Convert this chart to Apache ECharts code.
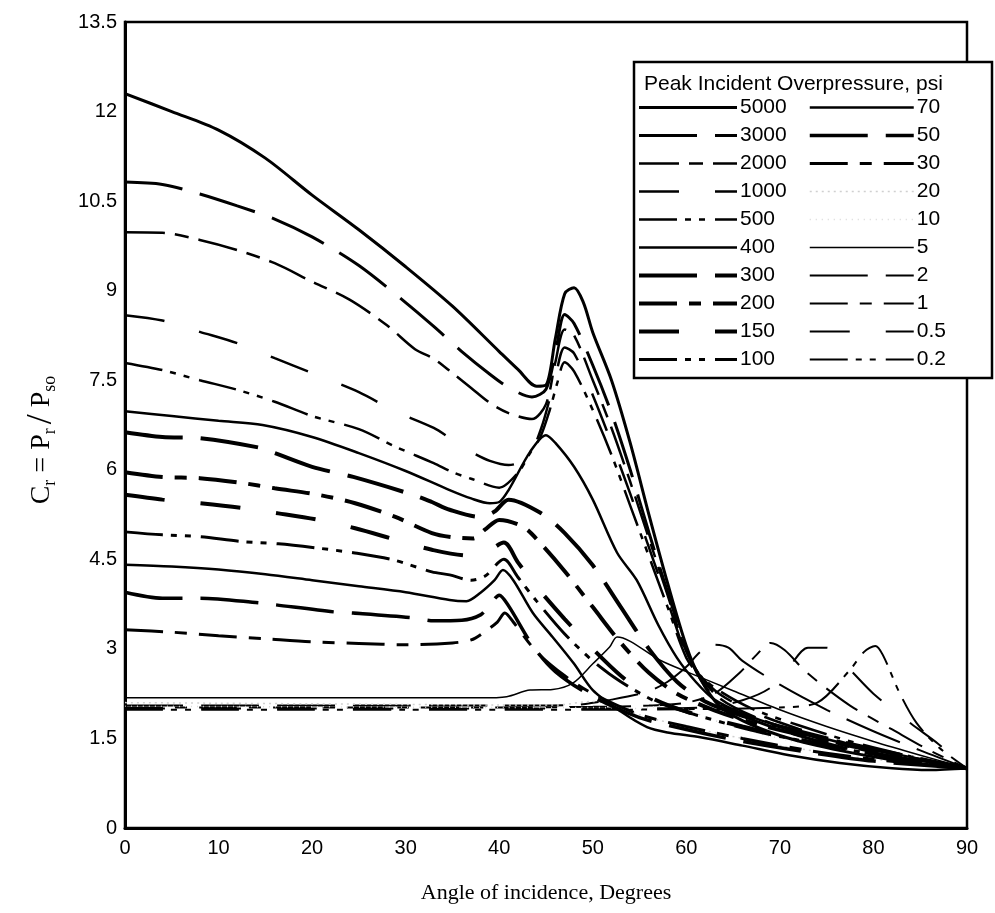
<!DOCTYPE html>
<html>
<head>
<meta charset="utf-8">
<script src="https://cdn.jsdelivr.net/npm/echarts@6/dist/echarts.min.js"></script>
<style>
  html, body { margin: 0; padding: 0; background: #fff; }
  #chart { width: 995px; height: 913px; }
</style>
</head>
<body>
<div id="chart"></div>
<script>
// Reflected pressure coefficient Cr vs. angle of incidence, one curve per peak incident overpressure (psi).
// Each curve: [angle (deg), Cr]
const p5000 = [[0,12.3],[5,12.0],[10,11.69],[15,11.22],[20,10.6],[25,10.02],[30,9.4],[35,8.74],[40,7.98],[42,7.68],[44,7.4],[45,7.42],[46,8.2],[47,8.95],[48,9.05],[49,8.8],[50,8.3],[52,7.5],[54,6.45],[56,5.25],[58,4.1],[60,3.05],[61.5,2.5],[63.5,2.05],[66,1.8],[70,1.55],[74,1.38],[78,1.25],[82,1.14],[86,1.06],[90,1.0]];
const p3000 = [[0,10.82],[4,10.78],[8,10.62],[12,10.42],[16,10.2],[20,9.9],[25,9.42],[30,8.8],[33,8.4],[36,7.98],[39,7.6],[41,7.38],[43.5,7.22],[45,7.35],[46,7.95],[47,8.6],[48,8.45],[50,7.75],[52,6.95],[54,6.0],[56,4.95],[58,3.95],[60,3.0],[61.5,2.5],[63.5,2.1],[67,1.82],[72,1.55],[78,1.3],[84,1.12],[90,1.0]];
const p2000 = [[0,9.98],[4,9.97],[8,9.85],[12,9.68],[16,9.46],[20,9.15],[24,8.85],[28,8.42],[31,8.02],[33,7.86],[35,7.62],[37,7.37],[39,7.12],[41,6.95],[43.5,6.85],[45,7.1],[46,7.8],[47,8.35],[48,8.25],[50,7.5],[52,6.7],[54,5.8],[56,4.85],[58,3.9],[60,2.95],[61.5,2.55],[63.5,2.18],[67,1.88],[72,1.6],[78,1.34],[84,1.14],[90,1.0]];
const p1000 = [[0,8.59],[4,8.5],[8,8.31],[12,8.12],[16,7.87],[20,7.62],[25,7.3],[29,6.97],[33,6.7],[35,6.5],[37,6.3],[39,6.15],[41,6.08],[43,6.2],[44.5,6.7],[46,7.55],[47,8.05],[48,7.95],[50,7.25],[52,6.45],[54,5.6],[56,4.7],[58,3.8],[60,2.9],[61.5,2.55],[63.5,2.25],[67,1.95],[72,1.66],[78,1.38],[84,1.16],[90,1.0]];
const p500 = [[0,7.79],[4,7.67],[8,7.5],[12,7.34],[16,7.14],[20,6.9],[25,6.68],[29,6.38],[33,6.11],[35,5.96],[37,5.85],[40,5.7],[42,5.95],[43.3,6.28],[44.4,6.55],[45.4,7.0],[46.2,7.45],[47,7.8],[48,7.65],[50,7.0],[52,6.25],[54,5.4],[56,4.55],[58,3.7],[60,2.85],[61.5,2.55],[63.5,2.3],[67,2.0],[72,1.72],[78,1.43],[84,1.2],[90,1.0]];
const p400 = [[0,6.98],[5,6.9],[10,6.82],[14.7,6.75],[20,6.55],[25,6.28],[30,5.98],[34.7,5.66],[37,5.52],[39,5.44],[40,5.46],[41,5.66],[43.3,6.3],[45,6.58],[46,6.45],[48,6.05],[50,5.5],[52.6,4.61],[54.7,4.15],[57,3.4],[59,2.85],[61,2.45],[63,2.15],[66,1.92],[70,1.7],[76,1.45],[82,1.25],[90,1.0]];
const p300 = [[0,6.63],[4,6.55],[8,6.53],[14.4,6.37],[16,6.28],[20,6.05],[24.4,5.88],[30.8,5.58],[32.8,5.46],[34.7,5.33],[38,5.21],[39.5,5.3],[41,5.5],[44.4,5.28],[47,4.94],[50,4.4],[53,3.7],[56,3.0],[59,2.45],[62,2.12],[66,1.88],[72,1.62],[80,1.32],[90,1.0]];
const p200 = [[0,5.96],[4,5.88],[8,5.86],[12.5,5.78],[16,5.69],[20.7,5.58],[24.6,5.44],[28.9,5.21],[32.8,4.94],[35,4.87],[37.2,4.85],[38.5,5.0],[40,5.16],[42.6,5.04],[44.4,4.77],[47,4.3],[50,3.7],[53,3.1],[56,2.6],[59,2.25],[63,1.97],[68,1.72],[75,1.46],[82,1.23],[90,1.0]];
const p150 = [[0,5.58],[4,5.5],[8,5.44],[12.5,5.36],[16.4,5.27],[20.7,5.16],[24.6,5.02],[28.9,4.83],[32.8,4.66],[37,4.56],[38.5,4.6],[40.5,4.78],[42,4.45],[44,4.04],[47,3.5],[50,3.0],[53,2.55],[56,2.2],[60,1.95],[66,1.7],[73,1.45],[81,1.22],[90,1.0]];
const p100 = [[0,4.96],[4,4.91],[8,4.88],[12.3,4.8],[16.4,4.76],[20.5,4.69],[24.4,4.61],[28.7,4.49],[32.8,4.29],[34.7,4.24],[37,4.15],[38.5,4.22],[40.5,4.5],[42,4.2],[44,3.8],[47,3.25],[50,2.8],[53,2.45],[57,2.1],[62,1.85],[68,1.6],[75,1.38],[82,1.18],[90,1.0]];
const p70 = [[0,4.41],[5,4.38],[10,4.33],[15,4.25],[20,4.15],[25,4.05],[30,3.95],[34.7,3.82],[36.5,3.8],[38,3.94],[39.5,4.15],[40.4,4.32],[41.5,4.15],[43.6,3.6],[45.7,3.2],[48,2.75],[50,2.31],[53,1.95],[55.8,1.69],[58,1.6],[61.5,1.52],[66,1.38],[71,1.22],[76.4,1.09],[82,1.0],[86,0.97],[90,1.0]];
const p50 = [[0,3.95],[4,3.85],[8,3.85],[14.4,3.77],[16,3.74],[22.3,3.62],[24.4,3.6],[30.8,3.52],[33,3.47],[36,3.48],[38,3.57],[39,3.74],[40,3.9],[41,3.72],[43.6,3.05],[46,2.62],[50,2.2],[55,1.85],[60,1.65],[66,1.45],[73,1.27],[80,1.12],[90,1.0]];
const p30 = [[0,3.32],[5,3.28],[10,3.22],[15,3.17],[20,3.12],[25,3.09],[30,3.07],[35,3.1],[37,3.15],[38.3,3.27],[39.8,3.45],[40.6,3.6],[41.5,3.45],[44,2.95],[47,2.55],[50,2.25],[55,1.9],[60,1.7],[66,1.5],[73,1.3],[80,1.15],[90,1.0]];
const p20 = [[0,2.1],[10,2.09],[20,2.08],[30,2.07],[40,2.06],[46,2.06],[50,2.12],[52,2.05],[56,1.85],[60,1.7],[66,1.5],[72,1.33],[80,1.15],[90,1.0]];
const p10 = [[0,2.04],[20,2.03],[40,2.02],[50,2.02],[55,2.0],[58,2.06],[60,1.98],[64,1.75],[70,1.5],[78,1.27],[84,1.12],[90,1.0]];
const p5 = [[0,2.18],[10,2.18],[20,2.18],[30,2.18],[38,2.18],[40.8,2.2],[43.3,2.31],[45.7,2.32],[47.9,2.43],[50,2.75],[51.8,3.03],[52.6,3.2],[57.2,2.81],[60,2.62],[65,2.3],[70,1.98],[75,1.7],[80,1.45],[85,1.22],[90,1.0]];
const p2 = [[0,2.05],[10,2.05],[20,2.05],[30,2.05],[40,2.05],[48,2.06],[52,2.15],[55.8,2.28],[58,2.45],[60,2.7],[61.5,2.95],[63,3.07],[64.5,3.02],[66,2.8],[70,2.4],[75,1.98],[80,1.62],[85,1.3],[90,1.0]];
const p1 = [[0,2.02],[10,2.02],[20,2.02],[30,2.02],[40,2.02],[50,2.03],[56,2.05],[60,2.1],[63,2.25],[65.7,2.6],[67.5,2.9],[69,3.1],[70.5,2.98],[72.9,2.6],[77.5,2.05],[82,1.65],[86,1.3],[90,1.0]];
const p05 = [[0,2.0],[10,2.0],[20,2.0],[30,2.0],[40,2.0],[50,2.0],[62,2.02],[66,2.14],[69,2.35],[71,2.7],[73,3.02],[75,3.02],[77.5,2.65],[80,2.25],[84,1.75],[87,1.4],[90,1.0]];
const p02 = [[0,1.98],[10,1.98],[20,1.98],[30,1.98],[40,1.98],[50,1.98],[60,1.99],[70,2.02],[74,2.1],[77.5,2.65],[79,2.95],[80.2,3.05],[81,2.9],[82.8,2.26],[84.6,1.76],[87,1.35],[90,1.0]];

// Legend columns (psi)
const legendLeft = ['5000','3000','2000','1000','500','400','300','200','150','100'];
const legendRight = ['70','50','30','20','10','5','2','1','0.5','0.2'];

// Axis ticks
const xTicks = [0,10,20,30,40,50,60,70,80,90];
const yTicks = [0,1.5,3,4.5,6,7.5,9,10.5,12,13.5];

const curves = {
  '5000': p5000, '3000': p3000, '2000': p2000, '1000': p1000, '500': p500,
  '400': p400, '300': p300, '200': p200, '150': p150, '100': p100,
  '70': p70, '50': p50, '30': p30, '20': p20, '10': p10,
  '5': p5, '2': p2, '1': p1, '0.5': p05, '0.2': p02
};

// Line appearance per curve
const DASH_LONG = [58, 18];
const DASH_DOT = [38, 12, 12, 12];
const DASH_GAP = [40, 36];
const DASH_DOT2 = [38, 8, 6, 8, 6, 10];
const DASH_DOT_MED = [40, 10, 14, 10];
const looks = {
  '5000': { w: 3, t: 'solid' },
  '3000': { w: 3, t: DASH_LONG },
  '2000': { w: 2.5, t: DASH_DOT_MED },
  '1000': { w: 2.5, t: DASH_GAP },
  '500':  { w: 2.5, t: DASH_DOT2 },
  '400':  { w: 2.5, t: 'solid' },
  '300':  { w: 4, t: DASH_LONG },
  '200':  { w: 4, t: DASH_DOT },
  '150':  { w: 4, t: DASH_GAP },
  '100':  { w: 3, t: DASH_DOT2 },
  '70':   { w: 2.5, t: 'solid' },
  '50':   { w: 3.5, t: DASH_LONG },
  '30':   { w: 3, t: DASH_DOT },
  '20':   { w: 1.5, t: [2, 4], c: '#d0d0d0' },
  '10':   { w: 1.5, t: [1, 5], c: '#d8d8d8' },
  '5':    { w: 1.5, t: 'solid' },
  '2':    { w: 2, t: DASH_LONG },
  '1':    { w: 2, t: DASH_DOT },
  '0.5':  { w: 2, t: DASH_GAP },
  '0.2':  { w: 2, t: DASH_DOT2 }
};

const order = legendRight.slice().reverse().concat(legendLeft.slice().reverse());
const series = order.map(name => ({
  name: name,
  type: 'line',
  data: curves[name],
  symbol: 'none',
  showSymbol: false,
  smooth: 0.3,
  clip: true,
  silent: true,
  z: 2,
  lineStyle: {
    width: looks[name].w,
    type: looks[name].t,
    color: looks[name].c || '#000'
  },
  itemStyle: { color: looks[name].c || '#000' }
}));

const sansFont = '"Liberation Sans", Arial, sans-serif';
const serifFont = '"Liberation Serif", "Times New Roman", serif';

const legendCommon = {
  orient: 'vertical',
  padding: 0,
  itemGap: 7,
  itemHeight: 14,
  selectedMode: false,
  z: 20,
  itemStyle: { color: 'rgba(0,0,0,0)', borderColor: 'rgba(0,0,0,0)', borderWidth: 0 },
  lineStyle: { width: 'inherit', type: 'inherit', color: 'inherit' },
  textStyle: { fontFamily: sansFont, fontSize: 21, color: '#000', lineHeight: 21, padding: [0, 0, 0, -2] }
};

const chart = echarts.init(document.getElementById('chart'), null, { renderer: 'canvas' });
chart.setOption({
  animation: false,
  backgroundColor: '#fff',
  grid: {
    left: 125, right: 28, top: 22, bottom: 85,
    show: true, borderColor: '#000', borderWidth: 2.5, backgroundColor: 'transparent'
  },
  xAxis: {
    type: 'value',
    min: xTicks[0], max: xTicks[xTicks.length - 1], interval: 10,
    name: 'Angle of incidence, Degrees',
    nameLocation: 'middle',
    nameGap: 54,
    nameTextStyle: { fontFamily: serifFont, fontSize: 22, color: '#000' },
    axisLine: { show: true, lineStyle: { color: '#000', width: 3 } },
    axisTick: { show: false },
    splitLine: { show: false },
    axisLabel: { margin: 10, fontFamily: sansFont, fontSize: 20, color: '#000' }
  },
  yAxis: {
    type: 'value',
    min: yTicks[0], max: yTicks[yTicks.length - 1], interval: 1.5,
    axisLine: { show: true, lineStyle: { color: '#000', width: 3 } },
    axisTick: { show: false },
    splitLine: { show: false },
    axisLabel: { margin: 8, fontFamily: sansFont, fontSize: 20, color: '#000' }
  },
  legend: [
    Object.assign({}, legendCommon, { data: legendLeft, left: 637, top: 97, itemWidth: 98 }),
    Object.assign({}, legendCommon, { data: legendRight, left: 808, top: 97, itemWidth: 104 })
  ],
  graphic: [
    {
      type: 'rect', z: 10,
      shape: { x: 634, y: 62, width: 358, height: 316 },
      style: { fill: '#fff', stroke: '#000', lineWidth: 2.5 }
    },
    {
      type: 'text', z: 21, x: 644, y: 74,
      style: { text: 'Peak Incident Overpressure, psi', font: '21px ' + sansFont, fill: '#000' }
    },
    {
      type: 'text', z: 21, x: 42, y: 440, rotation: Math.PI / 2,
      style: {
        text: '{a|C}{s|r}{a| = P}{s|r}{b|/}{a| P}{s|so}',
        align: 'center', verticalAlign: 'middle',
        rich: {
          a: { fontFamily: serifFont, fontSize: 28, color: '#000', lineHeight: 34 },
          b: { fontFamily: serifFont, fontSize: 36, color: '#000', lineHeight: 34, padding: [0, 0, 0, 4] },
          s: { fontFamily: serifFont, fontSize: 18, color: '#000', lineHeight: 14, verticalAlign: 'bottom' }
        }
      }
    }
  ],
  series: series
});
</script>
</body>
</html>
